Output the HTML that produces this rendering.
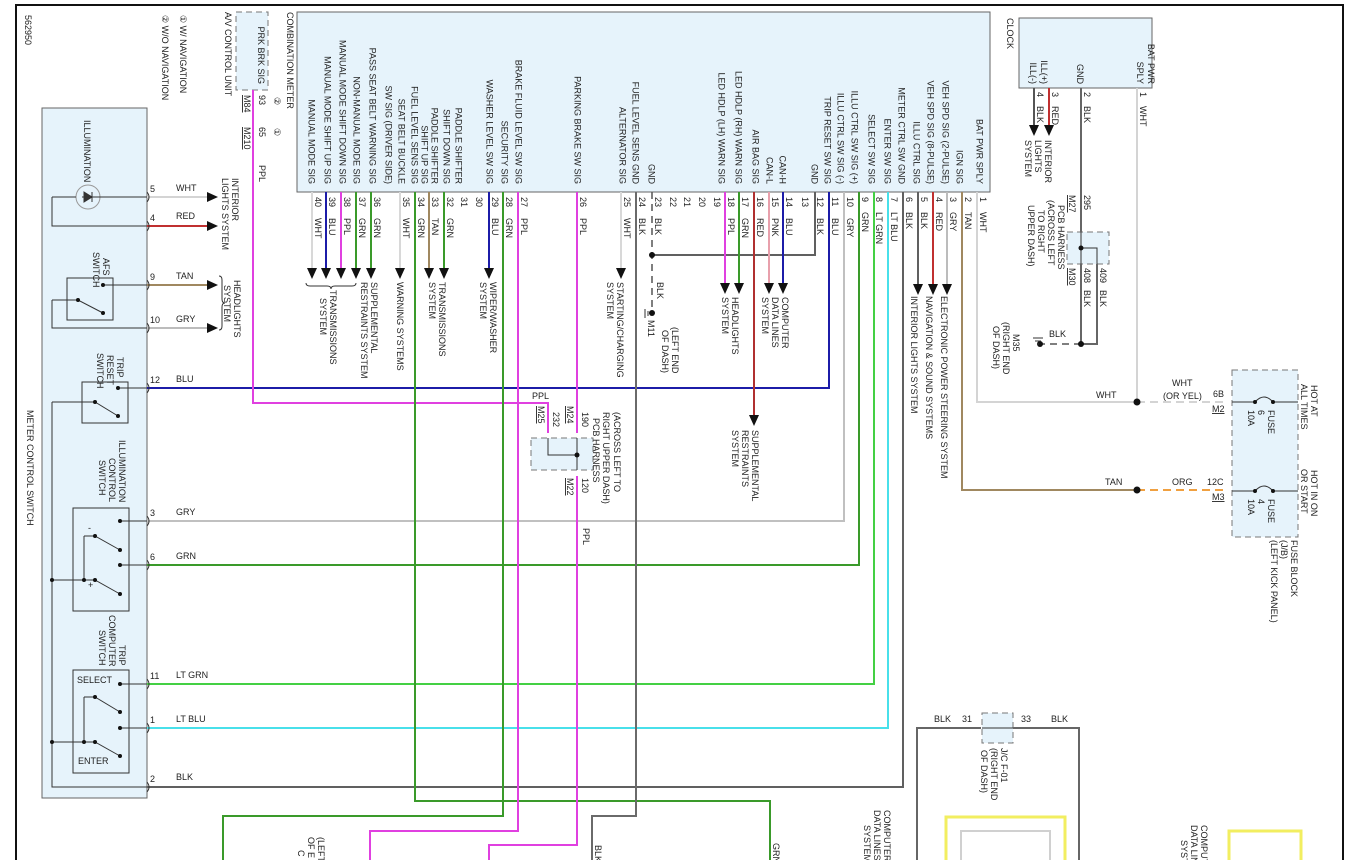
<!DOCTYPE html>
<html><head><meta charset="utf-8"><style>
html,body{margin:0;padding:0;background:#fff;}
svg{display:block;font-family:"Liberation Sans",sans-serif;}
text{font-size:9px;fill:#222;}
.sm{font-size:8.5px;}
</style></head><body>
<svg width="1346" height="860" viewBox="0 0 1346 860" xmlns="http://www.w3.org/2000/svg">
<!-- frame -->
<path d="M16,860 V5 H1343 V860" fill="none" stroke="#111" stroke-width="2"/>

<!-- boxes -->
<rect x="297" y="12" width="693" height="180" fill="#e6f3fb" stroke="#666" stroke-width="1"/>
<rect x="42" y="108" width="105" height="690" fill="#e6f3fb" stroke="#666" stroke-width="1"/>
<rect x="1019" y="18" width="133" height="70" fill="#e6f3fb" stroke="#666" stroke-width="1"/>
<rect x="236" y="12" width="32" height="78" fill="#e6f3fb" stroke="#777" stroke-dasharray="6,4"/>
<rect x="1232" y="370" width="66" height="167" fill="#e6f3fb" stroke="#777" stroke-dasharray="6,4"/>
<rect x="531" y="438" width="62" height="32" fill="#e6f3fb" stroke="#777" stroke-dasharray="6,4"/>
<rect x="1067" y="232" width="42" height="32" fill="#e6f3fb" stroke="#777" stroke-dasharray="6,4"/>
<rect x="982" y="713" width="31" height="30" fill="#e6f3fb" stroke="#777" stroke-dasharray="6,4"/>

<!-- ===== wires ===== -->
<g fill="none" stroke-width="2">
<path d="M147,197 H207" stroke="#d4d4d4"/>
<path d="M147,226 H207" stroke="#c03030"/>
<path d="M147,285 H207" stroke="#a08860"/>
<path d="M147,328 H207" stroke="#bcbcbc"/>
<path d="M147,388 H829 V192" stroke="#1c1ca8"/>
<path d="M147,521 H844 V192" stroke="#c0c0c0"/>
<path d="M147,565 H859 V192" stroke="#3a9a2a"/>
<path d="M147,684 H874 V192" stroke="#44d044"/>
<path d="M147,728 H888 V192" stroke="#48e0ea"/>
<path d="M147,787 H903 V192" stroke="#606060"/>
<path d="M253,90 V403 H548 V433" stroke="#e040e0"/>
<path d="M312,192 V268" stroke="#d8d8d8"/>
<path d="M326,192 V268" stroke="#1c1ca8"/>
<path d="M341,192 V268" stroke="#e040e0"/>
<path d="M356,192 V268" stroke="#3a9a2a"/>
<path d="M371,192 V268" stroke="#3a9a2a"/>
<path d="M400,192 V268" stroke="#d8d8d8"/>
<path d="M429,192 V268" stroke="#a08860"/>
<path d="M444,192 V268" stroke="#3a9a2a"/>
<path d="M489,192 V268" stroke="#1c1ca8"/>
<path d="M621,192 V268" stroke="#d8d8d8"/>
<path d="M415,192 V801 H770 V860" stroke="#3a9a2a"/>
<path d="M503,192 V816 H223 V860" stroke="#3a9a2a"/>
<path d="M518,192 V831 H370 V860" stroke="#e040e0"/>
<path d="M577,192 V433 M577,476 V845 H489 V860" stroke="#e040e0"/>
<path d="M636,192 V816 H592 V860" stroke="#6a6a6a"/>
<path d="M815,192 V255 H652" stroke="#606060"/>
<path d="M725,192 V283" stroke="#e040e0"/>
<path d="M739,192 V283" stroke="#3a9a2a"/>
<path d="M754,192 V415" stroke="#b03030"/>
<path d="M769,192 V283" stroke="#e8a0ac"/>
<path d="M783,192 V283" stroke="#1c1ca8"/>
<path d="M918,192 V284" stroke="#606060"/>
<path d="M933,192 V284" stroke="#c03030"/>
<path d="M947,192 V284" stroke="#bcbcbc"/>
<path d="M962,192 V490 H1137" stroke="#a08860"/>
<path d="M977,192 V402 H1137" stroke="#d4d4d4"/>
<path d="M1137,88 V402" stroke="#d4d4d4"/>
<path d="M1137,402 H1226" stroke="#d4d4d4" stroke-dasharray="8,5"/>
<path d="M1137,490 H1226" stroke="#f0a040" stroke-dasharray="8,5"/>
<path d="M1049,88 V125" stroke="#c03030"/>
<path d="M1034,88 V125" stroke="#555"/>
<path d="M1081,88 V232 M1081,264 V344 M1097,264 V344 H1081" stroke="#666"/>
<path d="M917,860 V728 H981 M1013,728 H1079 V860" stroke="#666"/>
<path d="M946,860 V817 H1065 V860" stroke="#f2ee60" stroke-width="3"/>
<path d="M961,860 V831 H1050 V860" stroke="#d0d0d0"/>
<path d="M1229,860 V831 H1301 V860" stroke="#f2ee60" stroke-width="3"/>
</g>
<g fill="none" stroke="#555" stroke-width="1.5" stroke-dasharray="7,5">
<path d="M652,192 V315"/>
<path d="M1081,344 H1040"/>
</g>

<!-- arrowheads -->
<g fill="#111">
<path d="M207,192 L218,197 L207,202Z"/>
<path d="M207,221 L218,226 L207,231Z"/>
<path d="M207,280 L218,285 L207,290Z"/>
<path d="M207,323 L218,328 L207,333Z"/>
<path d="M307,268 h10 l-5,11z"/><path d="M321,268 h10 l-5,11z"/><path d="M336,268 h10 l-5,11z"/>
<path d="M351,268 h10 l-5,11z"/><path d="M366,268 h10 l-5,11z"/><path d="M395,268 h10 l-5,11z"/>
<path d="M424,268 h10 l-5,11z"/><path d="M439,268 h10 l-5,11z"/><path d="M484,268 h10 l-5,11z"/>
<path d="M616,268 h10 l-5,11z"/>
<path d="M720,283 h10 l-5,11z"/><path d="M734,283 h10 l-5,11z"/><path d="M764,283 h10 l-5,11z"/><path d="M778,283 h10 l-5,11z"/>
<path d="M749,415 h10 l-5,11z"/>
<path d="M913,284 h10 l-5,11z"/><path d="M928,284 h10 l-5,11z"/><path d="M942,284 h10 l-5,11z"/>
<path d="M1044,125 h10 l-5,11z"/><path d="M1029,125 h10 l-5,11z"/>
</g>
<g fill="#111">
<circle cx="652" cy="255" r="3"/><circle cx="652" cy="313" r="3"/>
<circle cx="1137" cy="402" r="3.5"/><circle cx="1137" cy="490" r="3.5"/>
<circle cx="1081" cy="344" r="3"/><circle cx="1040" cy="344" r="3"/>
</g>
<g stroke="#333" stroke-width="1">
<path d="M645,309 v9 M648,311 v5"/>
<path d="M1033,338 h10 M1035,341 h6 M1037,344 h2"/>
</g>

<!-- left switch internals -->
<g fill="none" stroke="#333" stroke-width="1">
<circle cx="88" cy="197" r="12" stroke="#999"/>
<path d="M82,197 H147 M52,197 V226 H147 M52,197 H76"/>
<path d="M84,192 l8,5 l-8,5z M92,192 v10" fill="#333"/>
<rect x="67" y="278" width="46" height="42" fill="#e6f3fb"/>
<path d="M103,285 H147 M52,300 H78 L103,313 M52,300 V328 H147"/>
<rect x="82" y="382" width="46" height="41" fill="#e6f3fb"/>
<path d="M118,388 H147 M52,402 H95 L118,416 M52,402 V787 H147"/>
<rect x="73" y="508" width="56" height="103" fill="#e6f3fb"/>
<path d="M120,521 H147 M84,536 H95 L120,550 M84,536 V580 M52,580 H95 L120,594 M120,565 H147"/>
<rect x="73" y="670" width="56" height="103" fill="#e6f3fb"/>
<path d="M120,684 H147 M84,697 H95 L120,712 M84,697 V742 M52,742 H95 L120,756 M120,728 H147"/>
<path d="M147,192 q4,5 0,10 M147,221 q4,5 0,10 M147,280 q4,5 0,10 M147,323 q4,5 0,10 M147,383 q4,5 0,10 M147,516 q4,5 0,10 M147,560 q4,5 0,10 M147,679 q4,5 0,10 M147,723 q4,5 0,10 M147,782 q4,5 0,10"/>
<path d="M219,276 q3,0 3,4 v19 q0,4 3,4 q-3,0 -3,4 v19 q0,4 -3,4"/>
<path d="M306,283 q0,3 4,3 h17 q4,0 4,3 q0,-3 4,-3 h17 q4,0 4,-3"/>
<path d="M548,438 V455 H577 M577,438 V470"/>
<path d="M1081,232 V264 M1081,248 H1097 V264"/>
<path d="M982,728 H1013"/>
<path d="M1232,402 H1255 M1273,402 H1298 M1255,402 q9,-10 18,0 M1232,491 H1255 M1273,491 H1298 M1255,491 q9,-10 18,0"/>
</g>
<g fill="#111">
<circle cx="103" cy="285" r="2"/><circle cx="78" cy="300" r="2"/><circle cx="103" cy="313" r="2"/>
<circle cx="118" cy="388" r="2"/><circle cx="95" cy="402" r="2"/><circle cx="118" cy="416" r="2"/>
<circle cx="120" cy="521" r="2"/><circle cx="95" cy="536" r="2"/><circle cx="120" cy="550" r="2"/><circle cx="120" cy="565" r="2"/>
<circle cx="84" cy="580" r="2"/><circle cx="95" cy="580" r="2"/><circle cx="52" cy="580" r="2"/><circle cx="120" cy="594" r="2"/>
<circle cx="120" cy="684" r="2"/><circle cx="95" cy="697" r="2"/><circle cx="120" cy="712" r="2"/><circle cx="120" cy="728" r="2"/>
<circle cx="84" cy="742" r="2"/><circle cx="95" cy="742" r="2"/><circle cx="52" cy="742" r="2"/><circle cx="120" cy="756" r="2"/>
<circle cx="577" cy="455" r="2.5"/><circle cx="1081" cy="248" r="2.5"/>
<circle cx="1255" cy="402" r="2"/><circle cx="1273" cy="402" r="2"/><circle cx="1255" cy="491" r="2"/><circle cx="1273" cy="491" r="2"/>
</g>

<!-- horizontal text -->
<g class="sm">
<text x="150" y="192">5</text><text x="176" y="191">WHT</text>
<text x="150" y="221">4</text><text x="176" y="219">RED</text>
<text x="150" y="280">9</text><text x="176" y="279">TAN</text>
<text x="150" y="323">10</text><text x="176" y="322">GRY</text>
<text x="150" y="383">12</text><text x="176" y="382">BLU</text>
<text x="150" y="516">3</text><text x="176" y="515">GRY</text>
<text x="150" y="560">6</text><text x="176" y="559">GRN</text>
<text x="150" y="679">11</text><text x="176" y="678">LT GRN</text>
<text x="150" y="723">1</text><text x="176" y="722">LT BLU</text>
<text x="150" y="782">2</text><text x="176" y="780">BLK</text>
<text x="77" y="683">SELECT</text>
<text x="78" y="764">ENTER</text>
<text x="88" y="531">-</text><text x="88" y="588">+</text>
<text x="532" y="399">PPL</text>
<text x="1096" y="398">WHT</text>
<text x="1172" y="386">WHT</text><text x="1163" y="399">(OR YEL)</text>
<text x="1105" y="485">TAN</text><text x="1172" y="485">ORG</text>
<text x="1213" y="397">6B</text><text x="1212" y="412" text-decoration="underline">M2</text>
<text x="1207" y="485">12C</text><text x="1212" y="500" text-decoration="underline">M3</text>
<text x="1049" y="337">BLK</text>
<text x="934" y="722">BLK</text><text x="962" y="722">31</text><text x="1021" y="722">33</text><text x="1051" y="722">BLK</text>
</g>

<!-- vertical text -->
<g>
<g text-anchor="end">
<text transform="translate(308.5,184) rotate(90)">MANUAL MODE SIG</text>
<text transform="translate(324.5,184) rotate(90)">MANUAL MODE SHIFT UP SIG</text>
<text transform="translate(339.5,184) rotate(90)">MANUAL MODE SHIFT DOWN SIG</text>
<text transform="translate(353.5,184) rotate(90)">NON-MANUAL MODE SIG</text>
<text transform="translate(369.5,184) rotate(90)">PASS SEAT BELT WARNING SIG</text>
<text transform="translate(385.5,184) rotate(90)">SW SIG (DRIVER SIDE)</text>
<text transform="translate(398.5,184) rotate(90)">SEAT BELT BUCKLE</text>
<text transform="translate(411.5,184) rotate(90)">FUEL LEVEL SENS SIG</text>
<text transform="translate(421.5,184) rotate(90)">SHIFT UP SIG</text>
<text transform="translate(431.5,184) rotate(90)">PADDLE SHIFTER</text>
<text transform="translate(443.5,184) rotate(90)">SHIFT DOWN SIG</text>
<text transform="translate(455.5,184) rotate(90)">PADDLE SHIFTER</text>
<text transform="translate(486.5,184) rotate(90)">WASHER LEVEL SW SIG</text>
<text transform="translate(501.5,184) rotate(90)">SECURITY SIG</text>
<text transform="translate(515.5,184) rotate(90)">BRAKE FLUID LEVEL SW SIG</text>
<text transform="translate(574.5,184) rotate(90)">PARKING BRAKE SW SIG</text>
<text transform="translate(619.5,184) rotate(90)">ALTERNATOR SIG</text>
<text transform="translate(632.5,184) rotate(90)">FUEL LEVEL SENS GND</text>
<text transform="translate(648.5,184) rotate(90)">GND</text>
<text transform="translate(718.5,184) rotate(90)">LED HDLP (LH) WARN SIG</text>
<text transform="translate(735.5,184) rotate(90)">LED HDLP (RH) WARN SIG</text>
<text transform="translate(752.5,184) rotate(90)">AIR BAG SIG</text>
<text transform="translate(766.5,184) rotate(90)">CAN-L</text>
<text transform="translate(779.5,184) rotate(90)">CAN-H</text>
<text transform="translate(811.5,184) rotate(90)">GND</text>
<text transform="translate(824.5,184) rotate(90)">TRIP RESET SW SIG</text>
<text transform="translate(837.5,184) rotate(90)">ILLU CTRL SW SIG (-)</text>
<text transform="translate(851.5,184) rotate(90)">ILLU CTRL SW SIG (+)</text>
<text transform="translate(868.5,184) rotate(90)">SELECT SW SIG</text>
<text transform="translate(884.5,184) rotate(90)">ENTER SW SIG</text>
<text transform="translate(898.5,184) rotate(90)">METER CTRL SW GND</text>
<text transform="translate(913.5,184) rotate(90)">ILLU CTRL SIG</text>
<text transform="translate(927.5,184) rotate(90)">VEH SPD SIG (8-PULSE)</text>
<text transform="translate(942.5,184) rotate(90)">VEH SPD SIG (2-PULSE)</text>
<text transform="translate(956.5,184) rotate(90)">IGN SIG</text>
<text transform="translate(976.5,184) rotate(90)">BAT PWR SPLY</text>
<text transform="translate(1137,84) rotate(90)">SPLY</text>
<text transform="translate(1148,84) rotate(90)">BAT PWR</text>
<text transform="translate(1077,84) rotate(90)">GND</text>
<text transform="translate(1041,84) rotate(90)">ILL(+)</text>
<text transform="translate(1030,84) rotate(90)">ILL(-)</text>
<text transform="translate(258,84) rotate(90)">PRK BRK SIG</text>
</g>
<g class="sm">
<text transform="translate(315,197) rotate(90)">40</text><text transform="translate(315,218) rotate(90)">WHT</text>
<text transform="translate(329,197) rotate(90)">39</text><text transform="translate(329,218) rotate(90)">BLU</text>
<text transform="translate(344,197) rotate(90)">38</text><text transform="translate(344,218) rotate(90)">PPL</text>
<text transform="translate(359,197) rotate(90)">37</text><text transform="translate(359,218) rotate(90)">GRN</text>
<text transform="translate(374,197) rotate(90)">36</text><text transform="translate(374,218) rotate(90)">GRN</text>
<text transform="translate(403,197) rotate(90)">35</text><text transform="translate(403,218) rotate(90)">WHT</text>
<text transform="translate(418,197) rotate(90)">34</text><text transform="translate(418,218) rotate(90)">GRN</text>
<text transform="translate(432,197) rotate(90)">33</text><text transform="translate(432,218) rotate(90)">TAN</text>
<text transform="translate(447,197) rotate(90)">32</text><text transform="translate(447,218) rotate(90)">GRN</text>
<text transform="translate(461,197) rotate(90)">31</text>
<text transform="translate(476,197) rotate(90)">30</text>
<text transform="translate(492,197) rotate(90)">29</text><text transform="translate(492,218) rotate(90)">BLU</text>
<text transform="translate(506,197) rotate(90)">28</text><text transform="translate(506,218) rotate(90)">GRN</text>
<text transform="translate(521,197) rotate(90)">27</text><text transform="translate(521,218) rotate(90)">PPL</text>
<text transform="translate(580,197) rotate(90)">26</text><text transform="translate(580,218) rotate(90)">PPL</text>
<text transform="translate(624,197) rotate(90)">25</text><text transform="translate(624,218) rotate(90)">WHT</text>
<text transform="translate(639,197) rotate(90)">24</text><text transform="translate(639,218) rotate(90)">BLK</text>
<text transform="translate(655,197) rotate(90)">23</text><text transform="translate(655,218) rotate(90)">BLK</text>
<text transform="translate(670,197) rotate(90)">22</text>
<text transform="translate(684,197) rotate(90)">21</text>
<text transform="translate(699,197) rotate(90)">20</text>
<text transform="translate(714,197) rotate(90)">19</text>
<text transform="translate(728,197) rotate(90)">18</text><text transform="translate(728,218) rotate(90)">PPL</text>
<text transform="translate(742,197) rotate(90)">17</text><text transform="translate(742,218) rotate(90)">GRN</text>
<text transform="translate(757,197) rotate(90)">16</text><text transform="translate(757,218) rotate(90)">RED</text>
<text transform="translate(772,197) rotate(90)">15</text><text transform="translate(772,218) rotate(90)">PNK</text>
<text transform="translate(786,197) rotate(90)">14</text><text transform="translate(786,218) rotate(90)">BLU</text>
<text transform="translate(802,197) rotate(90)">13</text>
<text transform="translate(817,197) rotate(90)">12</text><text transform="translate(817,218) rotate(90)">BLK</text>
<text transform="translate(832,197) rotate(90)">11</text><text transform="translate(832,218) rotate(90)">BLU</text>
<text transform="translate(847,197) rotate(90)">10</text><text transform="translate(847,218) rotate(90)">GRY</text>
<text transform="translate(862,197) rotate(90)">9</text><text transform="translate(862,212) rotate(90)">GRN</text>
<text transform="translate(876,197) rotate(90)">8</text><text transform="translate(876,212) rotate(90)">LT GRN</text>
<text transform="translate(891,197) rotate(90)">7</text><text transform="translate(891,212) rotate(90)">LT BLU</text>
<text transform="translate(906,197) rotate(90)">6</text><text transform="translate(906,212) rotate(90)">BLK</text>
<text transform="translate(921,197) rotate(90)">5</text><text transform="translate(921,212) rotate(90)">BLK</text>
<text transform="translate(936,197) rotate(90)">4</text><text transform="translate(936,212) rotate(90)">RED</text>
<text transform="translate(950,197) rotate(90)">3</text><text transform="translate(950,212) rotate(90)">GRY</text>
<text transform="translate(965,197) rotate(90)">2</text><text transform="translate(965,212) rotate(90)">TAN</text>
<text transform="translate(980,197) rotate(90)">1</text><text transform="translate(980,212) rotate(90)">WHT</text>
<text transform="translate(1140,92) rotate(90)">1</text><text transform="translate(1140,106) rotate(90)">WHT</text>
<text transform="translate(1084,92) rotate(90)">2</text><text transform="translate(1084,106) rotate(90)">BLK</text>
<text transform="translate(1052,92) rotate(90)">3</text><text transform="translate(1052,106) rotate(90)">RED</text>
<text transform="translate(1037,92) rotate(90)">4</text><text transform="translate(1037,106) rotate(90)">BLK</text>
<text transform="translate(1084,195) rotate(90)">295</text><text transform="translate(1069,195) rotate(90)" text-decoration="underline">M27</text>
<text transform="translate(1084,268) rotate(90)">408</text><text transform="translate(1069,268) rotate(90)" text-decoration="underline">M30</text>
<text transform="translate(1100,268) rotate(90)">409</text>
<text transform="translate(1084,290) rotate(90)">BLK</text><text transform="translate(1100,290) rotate(90)">BLK</text>
<text transform="translate(259,95) rotate(90)">93</text><text transform="translate(244,95) rotate(90)" text-decoration="underline">M84</text>
<text transform="translate(259,127) rotate(90)">65</text><text transform="translate(244,127) rotate(90)" text-decoration="underline">M210</text>
<text transform="translate(274,97) rotate(90)">②</text><text transform="translate(274,128) rotate(90)">①</text>
<text transform="translate(259,165) rotate(90)">PPL</text>
<text transform="translate(553,412) rotate(90)">232</text><text transform="translate(538,406) rotate(90)" text-decoration="underline">M25</text>
<text transform="translate(582,412) rotate(90)">190</text><text transform="translate(567,406) rotate(90)" text-decoration="underline">M24</text>
<text transform="translate(582,478) rotate(90)">120</text><text transform="translate(567,478) rotate(90)" text-decoration="underline">M22</text>
<text transform="translate(583,528) rotate(90)">PPL</text>
<text transform="translate(614,412) rotate(90)">(ACROSS LEFT TO</text>
<text transform="translate(603,412) rotate(90)">RIGHT UPPER DASH)</text>
<text transform="translate(593,418) rotate(90)">PCB HARNESS</text>
</g>
<text transform="translate(25,15) rotate(90)">562950</text>
<text transform="translate(180,15) rotate(90)">① W/ NAVIGATION</text>
<text transform="translate(162,15) rotate(90)">② W/O NAVIGATION</text>
<text transform="translate(225,12) rotate(90)">A/V CONTROL UNIT</text>
<text transform="translate(287,12) rotate(90)">COMBINATION METER</text>
<text transform="translate(1007,18) rotate(90)">CLOCK</text>
<text transform="translate(27,410) rotate(90)">METER CONTROL SWITCH</text>
<text transform="translate(84,120) rotate(90)">ILLUMINATION</text>
<text transform="translate(103,258) rotate(90)">AFS</text><text transform="translate(93,252) rotate(90)">SWITCH</text>
<text transform="translate(117,357) rotate(90)">TRIP</text><text transform="translate(107,355) rotate(90)">RESET</text><text transform="translate(97,353) rotate(90)">SWITCH</text>
<text transform="translate(119,440) rotate(90)">ILLUMINATION</text><text transform="translate(109,458) rotate(90)">CONTROL</text><text transform="translate(99,460) rotate(90)">SWITCH</text>
<text transform="translate(119,645) rotate(90)">TRIP</text><text transform="translate(109,615) rotate(90)">COMPUTER</text><text transform="translate(99,630) rotate(90)">SWITCH</text>
<text transform="translate(232,178) rotate(90)">INTERIOR</text><text transform="translate(222,178) rotate(90)">LIGHTS SYSTEM</text>
<text transform="translate(234,280) rotate(90)">HEADLIGHTS</text><text transform="translate(224,285) rotate(90)">SYSTEM</text>
<text transform="translate(330,290) rotate(90)">TRANSMISSIONS</text><text transform="translate(320,298) rotate(90)">SYSTEM</text>
<text transform="translate(371,282) rotate(90)">SUPPLEMENTAL</text><text transform="translate(361,282) rotate(90)">RESTRAINTS SYSTEM</text>
<text transform="translate(397,282) rotate(90)">WARNING SYSTEMS</text>
<text transform="translate(439,282) rotate(90)">TRANSMISSIONS</text><text transform="translate(429,282) rotate(90)">SYSTEM</text>
<text transform="translate(490,282) rotate(90)">WIPER/WASHER</text><text transform="translate(480,282) rotate(90)">SYSTEM</text>
<text transform="translate(617,282) rotate(90)">STARTING/CHARGING</text><text transform="translate(607,282) rotate(90)">SYSTEM</text>
<text transform="translate(657,282) rotate(90)">BLK</text>
<text transform="translate(648,320) rotate(90)">M11</text>
<text transform="translate(672,327) rotate(90)">(LEFT END</text><text transform="translate(662,330) rotate(90)">OF DASH)</text>
<text transform="translate(732,297) rotate(90)">HEADLIGHTS</text><text transform="translate(722,297) rotate(90)">SYSTEM</text>
<text transform="translate(782,297) rotate(90)">COMPUTER</text><text transform="translate(772,297) rotate(90)">DATA LINES</text><text transform="translate(762,297) rotate(90)">SYSTEM</text>
<text transform="translate(752,430) rotate(90)">SUPPLEMENTAL</text><text transform="translate(742,430) rotate(90)">RESTRAINTS</text><text transform="translate(732,430) rotate(90)">SYSTEM</text>
<text transform="translate(911,296) rotate(90)">INTERIOR LIGHTS SYSTEM</text>
<text transform="translate(926,296) rotate(90)">NAVIGATION &amp; SOUND SYSTEMS</text>
<text transform="translate(941,296) rotate(90)">ELECTRONIC POWER STEERING SYSTEM</text>
<text transform="translate(1045,140) rotate(90)">INTERIOR</text><text transform="translate(1035,140) rotate(90)">LIGHTS</text><text transform="translate(1025,140) rotate(90)">SYSTEM</text>
<text transform="translate(1058,205) rotate(90)">PCB HARNESS</text><text transform="translate(1048,200) rotate(90)">(ACROSS LEFT</text><text transform="translate(1038,210) rotate(90)">TO RIGHT</text><text transform="translate(1028,205) rotate(90)">UPPER DASH)</text>
<text transform="translate(1013,334) rotate(90)">M35</text><text transform="translate(1003,322) rotate(90)">(RIGHT END</text><text transform="translate(993,326) rotate(90)">OF DASH)</text>
<text transform="translate(1311,385) rotate(90)">HOT AT</text><text transform="translate(1301,384) rotate(90)">ALL TIMES</text>
<text transform="translate(1311,470) rotate(90)">HOT IN ON</text><text transform="translate(1301,469) rotate(90)">OR START</text>
<text transform="translate(1268,410) rotate(90)">FUSE</text><text transform="translate(1258,410) rotate(90)">6</text><text transform="translate(1248,410) rotate(90)">10A</text>
<text transform="translate(1268,499) rotate(90)">FUSE</text><text transform="translate(1258,499) rotate(90)">4</text><text transform="translate(1248,499) rotate(90)">10A</text>
<text transform="translate(1291,540) rotate(90)">FUSE BLOCK</text><text transform="translate(1281,540) rotate(90)">(J/B)</text><text transform="translate(1271,540) rotate(90)">(LEFT KICK PANEL)</text>
<text transform="translate(1001,748) rotate(90)">J/C F-01</text><text transform="translate(991,748) rotate(90)">(RIGHT END</text><text transform="translate(981,750) rotate(90)">OF DASH)</text>
<text transform="translate(318,837) rotate(90)">(LEFT</text><text transform="translate(308,837) rotate(90)">OF E</text><text transform="translate(298,850) rotate(90)">C</text>
<text transform="translate(595,845) rotate(90)">BLK</text>
<text transform="translate(773,843) rotate(90)">GRN</text>
<text transform="translate(884,810) rotate(90)">COMPUTER</text><text transform="translate(874,810) rotate(90)">DATA LINES</text><text transform="translate(864,825) rotate(90)">SYSTEM</text>
<text transform="translate(1201,825) rotate(90)">COMPUTER</text><text transform="translate(1191,825) rotate(90)">DATA LINES</text><text transform="translate(1181,840) rotate(90)">SYSTEM</text>
</g>
</svg>
</body></html>
